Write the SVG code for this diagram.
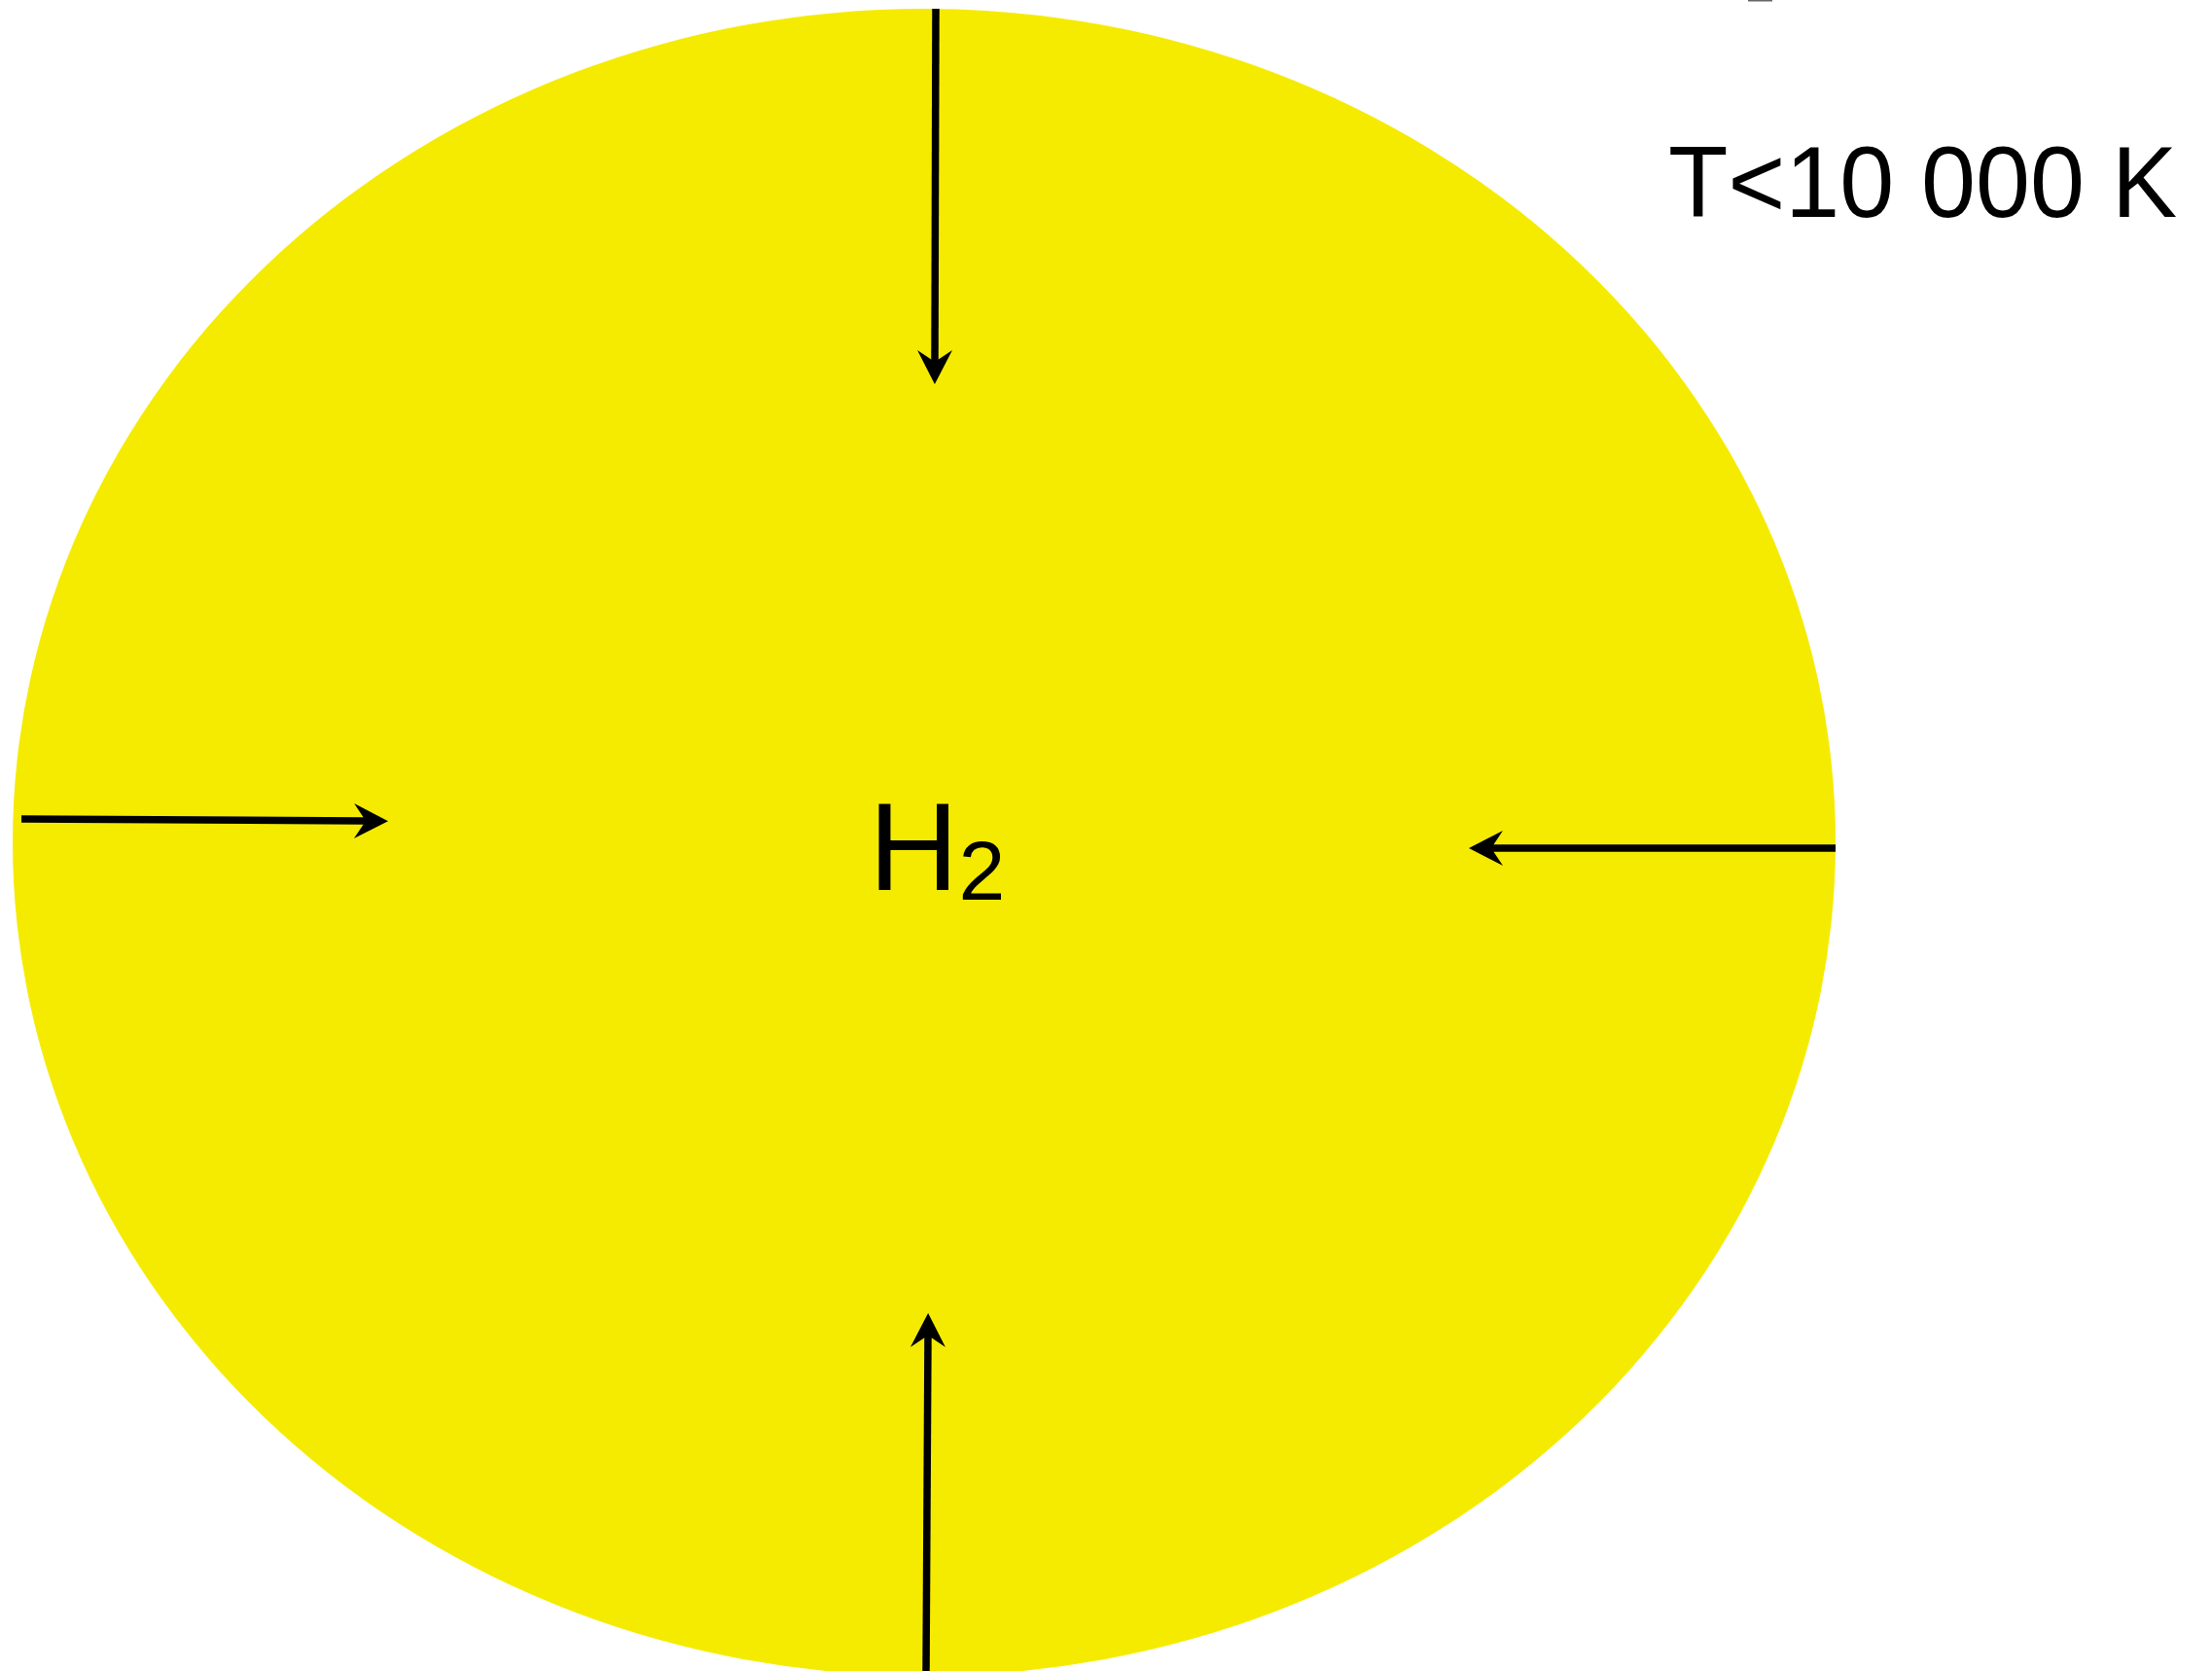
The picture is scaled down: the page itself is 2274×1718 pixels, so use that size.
<svg xmlns="http://www.w3.org/2000/svg" width="2274" height="1718" viewBox="0 0 2274 1718">
  <style>
    .conn { stroke: #000; stroke-width: 7.5; fill: none; marker-end: url(#arrow); }
    .lbl { font-family: "Liberation Sans", Arial, sans-serif; fill: #000; }
  </style>
  <defs>
    <marker id="arrow" markerUnits="userSpaceOnUse" viewBox="-15 -20 40 40" markerWidth="40" markerHeight="40" refX="0" refY="0" orient="auto">
      <path d="M23,0 L-12,-18 L0,0 L-12,18 Z" fill="#000"/>
    </marker>
  </defs>
  <rect width="2274" height="1718" fill="#fff"/>
  <g id="cloud">
    <ellipse cx="950" cy="866" rx="937" ry="857" fill="#F5EB00"/>
  </g>
  <g id="connectors">
    <line class="conn" x1="962" y1="9" x2="961" y2="372"/>
    <line class="conn" x1="22" y1="842" x2="376" y2="844"/>
    <line class="conn" x1="1887" y1="872" x2="1533" y2="872"/>
    <line class="conn" x1="952" y1="1720" x2="954" y2="1373"/>
  </g>
  <g id="label-h2">
    <text class="lbl" x="893" y="915" font-size="128">H<tspan font-size="86" dy="10">2</tspan></text>
  </g>
  <g id="label-temp">
    <text class="lbl" x="1715" y="223" font-size="104" textLength="523" lengthAdjust="spacingAndGlyphs">T&lt;10 000 K</text>
  </g>
  <rect x="1797" y="0" width="25" height="1.5" fill="#666"/>
</svg>
